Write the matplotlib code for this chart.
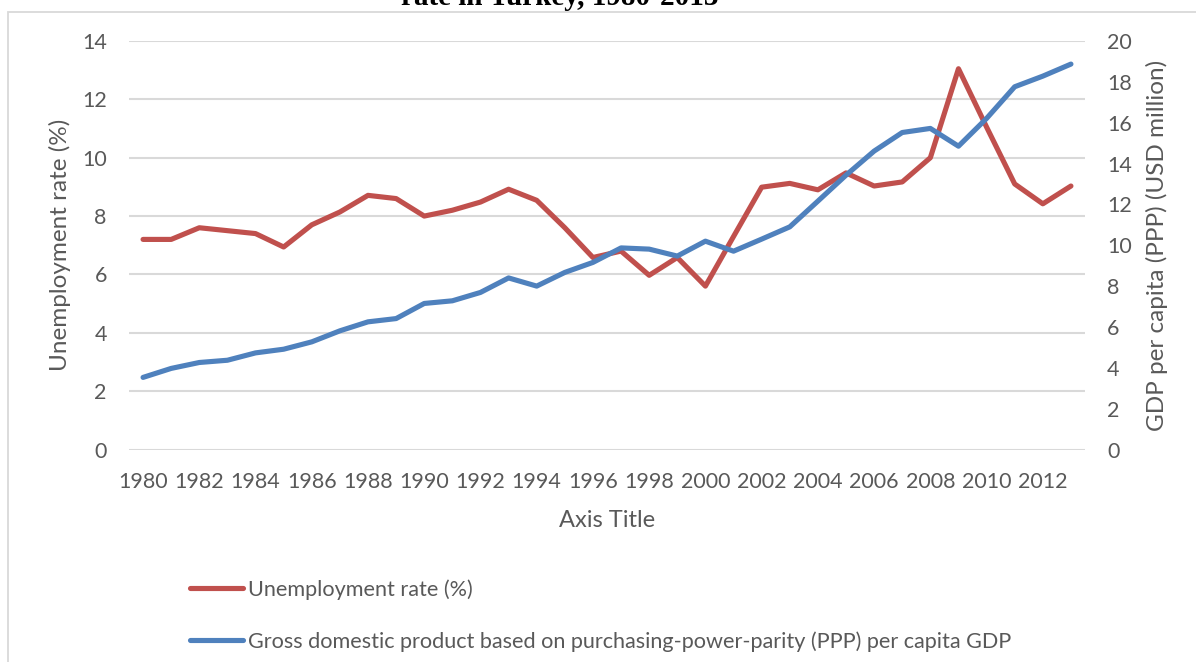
import matplotlib
matplotlib.use("Agg")
import matplotlib.pyplot as plt
from matplotlib.patches import Rectangle

# Turkey, 1980-2013
years = list(range(1980, 2014))
unemployment = [7.2, 7.2, 7.6, 7.5, 7.4, 6.94, 7.7, 8.14, 8.71, 8.6,
                8.0, 8.2, 8.48, 8.92, 8.54, 7.6, 6.58, 6.8, 5.97, 6.58,
                5.6, 7.3, 8.99, 9.12, 8.9, 9.48, 9.03, 9.17, 10.0, 13.05,
                11.05, 9.1, 8.42, 9.03]
gdp_ppp = [3.53, 3.97, 4.26, 4.37, 4.73, 4.91, 5.27, 5.81, 6.25, 6.41,
           7.15, 7.28, 7.69, 8.4, 8.0, 8.67, 9.16, 9.87, 9.81, 9.47,
           10.2, 9.71, 10.3, 10.9, 12.16, 13.43, 14.61, 15.52, 15.72, 14.85,
           16.21, 17.76, 18.28, 18.87]

red = "#C0504D"
blue = "#4F81BD"
text_gray = "#595959"
grid_gray = "#D9D9D9"

plt.rcParams["font.family"] = ["Lato", "DejaVu Sans"]
plt.rcParams["font.size"] = 15.5

fig = plt.figure(figsize=(11.96, 6.62), dpi=100)
W, H = 1196, 662

# chart area border
fig.add_artist(Rectangle((8 / W, -0.1), 1.2, 1 - 12 / H + 0.1,
                         transform=fig.transFigure, fill=False,
                         edgecolor=grid_gray, linewidth=1.3))

# title (top part runs off the page)
fig.text(560 / W, 1 - 5 / H, "rate in Turkey, 1980-2013", ha="center",
         va="baseline", fontsize=21, fontweight="bold",
         family=["Liberation Serif", "DejaVu Serif"], color="black")

left, right, top, bottom = 129 / W, 1085 / W, 1 - 41 / H, 1 - 449.5 / H
ax = fig.add_axes([left, bottom, right - left, top - bottom])
ax2 = ax.twinx()

x = list(range(len(years)))
l1, = ax.plot(x, unemployment, color=red, lw=3.7, solid_capstyle="round",
              solid_joinstyle="round", label="Unemployment rate (%)")
l2, = ax2.plot(x, gdp_ppp, color=blue, lw=3.7, solid_capstyle="round",
               solid_joinstyle="round",
               label="Gross domestic product based on purchasing-power-parity (PPP) per capita GDP")

ax.set_xlim(-0.5, len(years) - 0.5)
ax.set_ylim(0, 14)
ax2.set_ylim(0, 20)
ax.set_yticks(range(0, 15, 2))
ax2.set_yticks(range(0, 21, 2))
ax.set_xticks(x[::2])
ax.set_xticklabels([str(y) for y in years[::2]])

ax.grid(axis="y", color=grid_gray, lw=1.5)
ax.set_axisbelow(True)
for a in (ax, ax2):
    for s in a.spines.values():
        s.set_visible(False)
    a.tick_params(length=0, colors=text_gray, labelsize=15.5)
ax.tick_params(axis="y", pad=16)
ax.tick_params(axis="x", pad=16)
ax2.tick_params(axis="y", pad=16)

ax.set_ylabel("Unemployment rate (%)", color=text_gray, fontsize=17.5, labelpad=8)
ax2.set_ylabel("GDP per capita (PPP) (USD million)", color=text_gray,
               fontsize=17.5, labelpad=10)
ax.set_xlabel("Axis Title", color=text_gray, fontsize=17, labelpad=13)

leg = fig.legend(handles=[l1, l2], loc="upper left",
                 bbox_to_anchor=(190 / W, 1 - 579 / H), frameon=False,
                 handlelength=2.45, handletextpad=0.22, labelspacing=1.45,
                 fontsize=15.6, borderaxespad=0, borderpad=0)
for t in leg.get_texts():
    t.set_color(text_gray)

fig.savefig("out.png", dpi=100)
